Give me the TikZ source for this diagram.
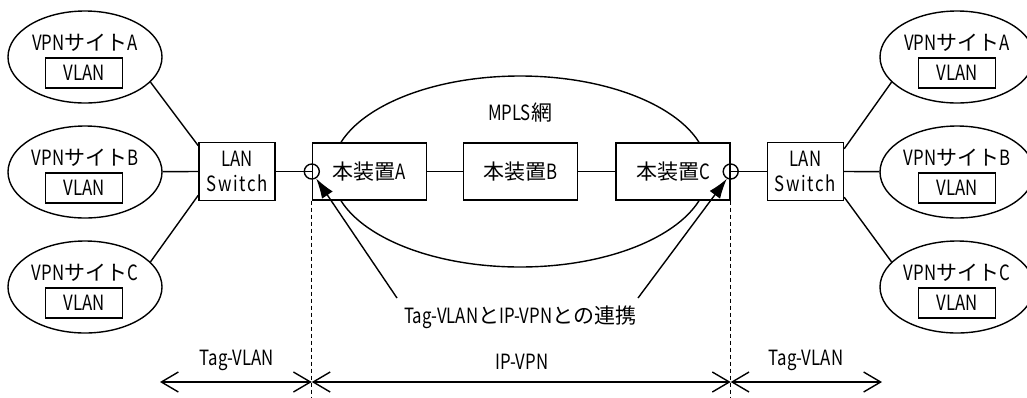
\documentclass[tikz,border=0pt]{standalone}
\usepackage{fontspec}
\setmainfont{Noto Sans CJK JP}
\newfontfamily\latf[FakeStretch=0.8]{Noto Sans CJK JP}
\newfontfamily\latw[FakeStretch=0.8,LetterSpace=8]{Noto Sans CJK JP}
\newcommand\lt[1]{{\latf #1}}
\usetikzlibrary{arrows.meta,shapes.geometric}
\begin{document}
\begin{tikzpicture}[x=1pt,y=-1pt,line width=1.4pt,
  font=\fontsize{21}{25}\selectfont,
  site/.style={draw,ellipse,minimum width=154pt,minimum height=92pt,inner sep=0pt},
  vlan/.style={draw,minimum width=77pt,minimum height=30pt,inner sep=0pt},
  sw/.style={draw,fill=white,minimum width=76pt,minimum height=58pt,align=center,inner sep=0pt},
  dev/.style={draw,fill=white,minimum width=114pt,minimum height=57pt,inner sep=0pt},
  port/.style={draw,circle,minimum size=15pt,inner sep=0pt},
  lbl/.style={inner sep=0pt},
  bar/.style={{Straight Barb[length=17pt,width=20pt]}-{Straight Barb[length=17pt,width=20pt]}},
  ptr/.style={-{Latex[length=20pt,width=13pt]}},
  dsh/.style={line width=1.2pt,dash pattern=on 4pt off 3pt}]
\useasboundingbox (0,0) rectangle (1027,397);

% left sites
\foreach \n/\y/\s in {lA/57/A,lB/172/B,lC/287/C}{
  \node[site] (\n) at (85,\y) {};
  \node[lbl] (\n t) at (85,\y-14) {\lt{VPN}サイト\lt{\s}};
  \node[vlan] (\n v) at (84,\y+16) {\lt{VLAN}};
}
% right sites
\foreach \n/\y/\s in {rA/57/A,rB/172/B,rC/287/C}{
  \node[site] (\n) at (957,\y) {};
  \node[lbl] (\n t) at (957,\y-14) {\lt{VPN}サイト\lt{\s}};
  \node[vlan] (\n v) at (957,\y+16) {\lt{VLAN}};
}

% MPLS network
\node[draw,ellipse,minimum width=376pt,minimum height=191pt,inner sep=0pt] (mpls) at (520,171.5) {};
\node[lbl] (mplst) at (520,113) {\lt{MPLS}網};

% switches and devices
\node[sw] (lsw) at (237,171.5) {\lt{LAN}\\{\latw Switch}};
\node[sw] (rsw) at (805.5,171.5) {\lt{LAN}\\{\latw Switch}};
\node[dev] (dA) at (369.5,171.5) {本装置\lt{A}};
\node[dev] (dB) at (520.5,171.5) {本装置\lt{B}};
\node[dev] (dC) at (673,171.5) {本装置\lt{C}};

% links
\draw (lA.-21) -- ([yshift=-4pt]lsw.north west);
\draw (lB) -- (lsw.west);
\draw (lC.21) -- ([yshift=6pt]lsw.south west);
\draw (rA.-159) -- ([yshift=-7pt]rsw.north east);
\draw (rB) -- (rsw.east);
\draw (rC.159) -- ([yshift=4pt]rsw.south east);
\draw (lsw) -- (dA.west);
\draw (dA) -- (dB);
\draw (dB) -- (dC);
\draw (dC.east) -- (rsw);
\node[port] (pA) at (dA.west) {};
\node[port] (pC) at (dC.east) {};

% pointer label
\node[lbl] (link) at (520,317) {\lt{Tag-VLAN}と\lt{IP-VPN}との連携};
\coordinate (linkL) at (397,298);
\coordinate (linkR) at (638,298);
\draw[ptr] (linkL) -- (pA.-58);
\draw[ptr] (linkR) -- (pC.-118);

% region boundaries
\coordinate (vA) at (dA.south west |- 0,397);
\coordinate (vC) at (dC.south east |- 0,397);
\draw[dsh] (dA.south west) -- (vA);
\draw[dsh] (dC.south east) -- (vC);

% range arrows
\coordinate (bL) at (160,382);
\coordinate (bA) at (dA.south west |- 0,382);
\coordinate (bC) at (dC.south east |- 0,382);
\coordinate (bR) at (882,382);
\draw[bar] (bL) -- (bA);
\draw[bar] (bA) -- (bC);
\draw[bar] (bC) -- (bR);
\node[lbl] (tl) at (237,360) {\lt{Tag-VLAN}};
\node[lbl] (ti) at (522,362) {\lt{IP-VPN}};
\node[lbl] (tr) at (806,360) {\lt{Tag-VLAN}};
\end{tikzpicture}
\end{document}
